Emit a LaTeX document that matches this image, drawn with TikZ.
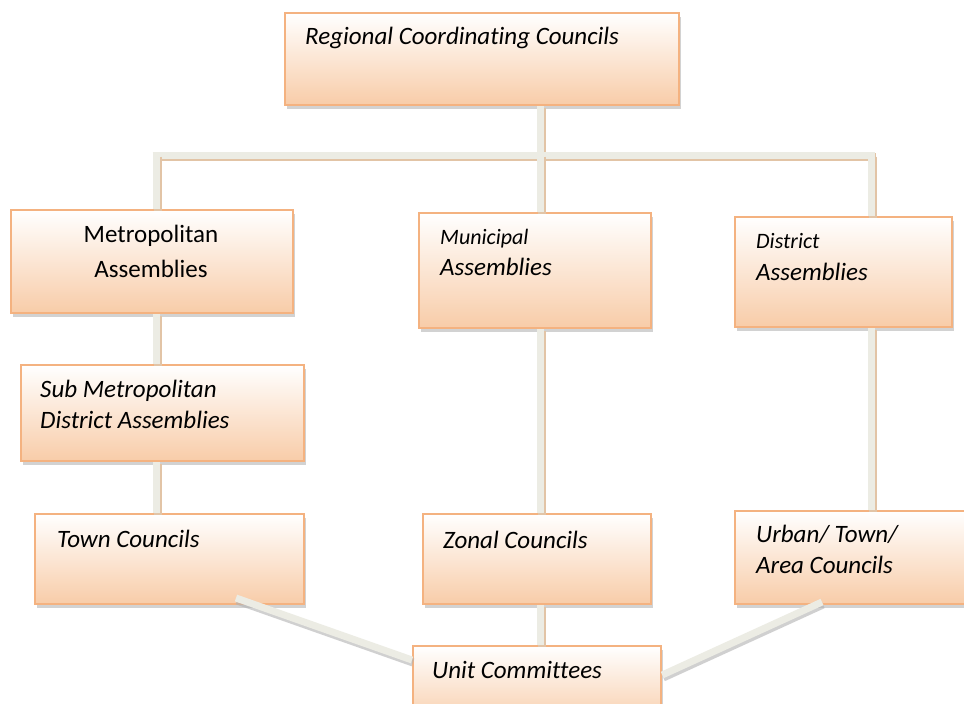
\documentclass[tikz,border=0pt]{standalone}
\usepackage{fontspec}
\setmainfont{Carlito}[Ligatures=NoCommon]
\usetikzlibrary{shadows}
\definecolor{peach}{RGB}{248,204,168}
\definecolor{boxline}{RGB}{244,178,128}
\definecolor{connfill}{RGB}{236,236,228}
\definecolor{connshadow}{RGB}{226,196,166}
\tikzset{
  orgbox/.style={draw=boxline, line width=2.2pt, rectangle, inner sep=0pt,
    top color=white, bottom color=peach,
    drop shadow={opacity=0.35, shadow xshift=2pt, shadow yshift=-4pt, fill=gray}},
  lbl/.style={anchor=base west, inner sep=0pt, align=left, font=\fontsize{25}{31}\selectfont\itshape, text=black},
  small/.style={font=\fontsize{22}{31}\selectfont\itshape},
  conn/.style={draw=connfill, line width=7pt,
    preaction={draw=connshadow, line width=8pt, transform canvas={xshift=1.5pt, yshift=-1.5pt}}},
  diag/.style={draw=connfill, line width=7pt,
    preaction={draw=gray!60, opacity=0.6, line width=8pt, transform canvas={xshift=1pt, yshift=-2.5pt}}}
}
\begin{document}
\begin{tikzpicture}[x=1pt,y=-1pt]
\useasboundingbox[fill=white] (0,0) rectangle (964,704);
% boxes
\node[orgbox, anchor=north west, minimum width=394pt, minimum height=92pt] (reg) at (284,12) {};
\node[orgbox, anchor=north west, minimum width=282pt, minimum height=103pt] (metro) at (10,209) {};
\node[orgbox, anchor=north west, minimum width=232pt, minimum height=115pt] (muni) at (418,212) {};
\node[orgbox, anchor=north west, minimum width=217pt, minimum height=110pt] (dist) at (734,216) {};
\node[orgbox, anchor=north west, minimum width=283pt, minimum height=96pt] (sub) at (20,364) {};
\node[orgbox, anchor=north west, minimum width=269pt, minimum height=90pt] (town) at (34,513) {};
\node[orgbox, anchor=north west, minimum width=228pt, minimum height=90pt] (zonal) at (422,513) {};
\node[orgbox, anchor=north west, minimum width=240pt, minimum height=93pt] (urban) at (734,510) {};
\node[orgbox, anchor=north west, minimum width=248pt, minimum height=80pt] (unit) at (412,645) {};
% labels
\node[lbl] (regT) at (305,44) {Regional Coordinating Councils};
\node[anchor=base, inner sep=0pt, align=center, font=\fontsize{25}{35}\selectfont, text=black] (metroT) at (151,277) {Metropolitan\\Assemblies};
\node[lbl, small] (muniT) at (440,244) {Municipal};
\node[lbl] (muniT2) at (440,275) {Assemblies};
\node[lbl, small] (distT) at (756,248) {District};
\node[lbl] (distT2) at (756,280) {Assemblies};
\node[lbl] (subT) at (40,428) {Sub Metropolitan\\District Assemblies};
\node[lbl] (townT) at (57,547) {Town Councils};
\node[lbl] (zonalT) at (443,548) {Zonal Councils};
\node[lbl] (urbanT) at (756,573) {Urban/ Town/\\Area Councils};
\node[lbl] (unitT) at (432,678) {Unit Committees};
% connector points
\coordinate (jl) at (156,155);
\coordinate (jm) at (540,155);
\coordinate (jr) at (871,155);
\coordinate (tw) at (236,598);
\coordinate (ur) at (822,602);
% connectors
\draw[conn] (reg.south -| jm) -- (jm);
\draw[conn] ([xshift=-3.5pt]jl) -- ([xshift=3.5pt]jr);
\draw[conn] (jl) -- (jl |- metro.north);
\draw[conn] (jm) -- (jm |- muni.north);
\draw[conn] (jr) -- (jr |- dist.north);
\draw[conn] (metro.south -| jl) -- (sub.north -| jl);
\draw[conn] (sub.south -| jl) -- (town.north -| jl);
\draw[conn] (muni.south -| jm) -- (zonal.north -| jm);
\draw[conn] (dist.south -| jr) -- (urban.north -| jr);
\draw[conn] (zonal.south -| jm) -- (unit.north -| jm);
\draw[diag] (tw) -- ([yshift=-15pt]unit.north west);
\draw[diag] (ur) -- ([yshift=-30pt]unit.north east);
\end{tikzpicture}
\end{document}
